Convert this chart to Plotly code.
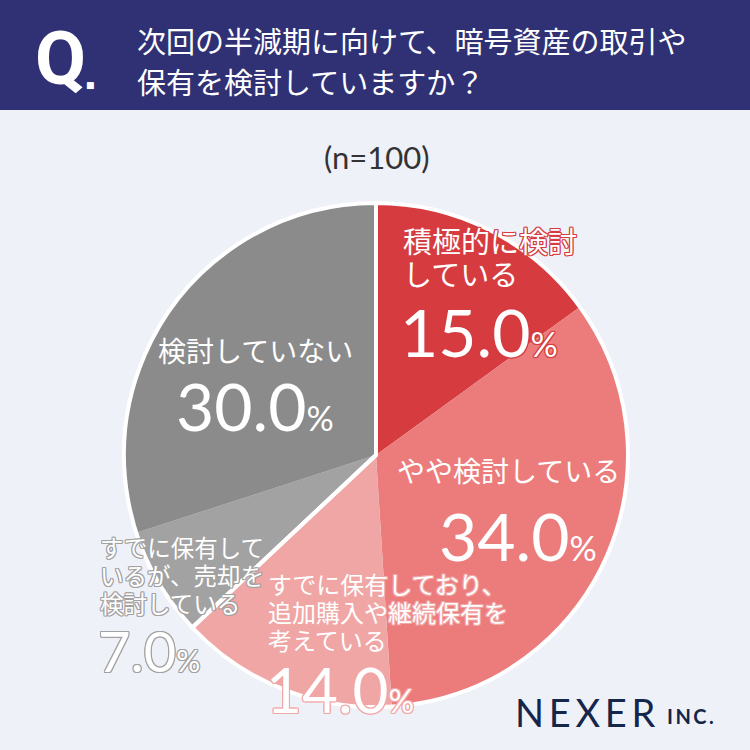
import plotly.graph_objects as go

categories = ["積極的に検討している", "やや検討している", "すでに保有しており、追加購入や継続保有を考えている",
              "すでに保有しているが、売却を検討している", "検討していない"]
values = [15.0, 34.0, 14.0, 7.0, 30.0]
colors = ["#d63b40", "#ec7c7c", "#f1a6a6", "#a2a2a2", "#8b8b8b"]
group_names = ["検討・保有", "検討せず"]
group_values = [values[0] + values[1] + values[2], values[3] + values[4]]

BG = "#eff1f9"
NAVY = "#2f3174"
JP = "Noto Sans CJK JP"
NUM = "Lato"

dom_x = [124 / 750, 628 / 750]
dom_y = [1 - 707 / 750, 1 - 203 / 750]

fig = go.Figure()
fig.add_trace(go.Pie(
    labels=categories, values=values, sort=False, direction="clockwise", rotation=0,
    marker=dict(colors=colors, line=dict(width=0)),
    textinfo="none", hoverinfo="skip", showlegend=False,
    domain=dict(x=dom_x, y=dom_y),
))
fig.add_trace(go.Pie(
    labels=group_names, values=group_values, sort=False, direction="clockwise", rotation=0,
    marker=dict(colors=["rgba(0,0,0,0)", "rgba(0,0,0,0)"], line=dict(width=4, color="white")),
    textinfo="none", hoverinfo="skip", showlegend=False,
    domain=dict(x=dom_x, y=dom_y),
))

def stroke(c, w=1):
    return ", ".join(f"{dx}px {dy}px 0 {c}" for dx, dy in
                     [(w, 0), (-w, 0), (0, w), (0, -w), (w, w), (-w, -w), (w, -w), (-w, w)])

def px(x, y):
    return x / 750, 1 - y / 750

ann = []

def add(text, x, y, size, color="white", font=JP, xanchor="left", sh=None, weight="normal"):
    xx, yy = px(x, y)
    ann.append(dict(text=text, x=xx, y=yy, xref="paper", yref="paper", showarrow=False,
                    xanchor=xanchor, yanchor="middle", align="left",
                    font=dict(size=size, color=color, family=font, weight=weight,
                              shadow=sh if sh else "none")))

def pct(v, small=34):
    return f"{v:.1f}<span style='font-size:{small}px'>%</span>"

# header
add("Q", 33, 58, 74, font="Roboto", weight="bold")
add("■", 84, 85, 9, font="DejaVu Sans")
add("次回の半減期に向けて、暗号資産の取引や", 135, 40, 29)
add("保有を検討していますか？", 135, 81, 29)
add("(n=100)", 377, 157, 31, color="#333333", font=NUM, xanchor="center")

# slice 1
add("積極的に検討", 401, 240, 29, sh=stroke(colors[0]))
add("している", 401, 273, 29, sh=stroke(colors[0]))
add(pct(values[0]), 398, 331, 66, font=NUM, sh=stroke(colors[0]))
# slice 2
add(categories[1], 508, 470, 28, xanchor="center", sh=stroke(colors[1]))
add(pct(values[1]), 518, 535, 66, font=NUM, xanchor="center", sh=stroke(colors[1]))
# slice 3
add("すでに保有しており、", 266, 583, 24, sh=stroke(colors[2]))
add("追加購入や継続保有を", 266, 611, 24, sh=stroke(colors[2]))
add("考えている", 266, 639, 24, sh=stroke(colors[2]))
add(pct(values[2], 32), 264, 689, 62, font=NUM, sh=stroke(colors[2]))
# slice 4
add("すでに保有して", 98, 547, 23.5, sh=stroke(colors[3]))
add("いるが、売却を", 98, 575, 23.5, sh=stroke(colors[3]))
add("検討している", 98, 603, 23.5, sh=stroke(colors[3]))
add(pct(values[3], 30), 96, 650, 56, font=NUM, sh=stroke(colors[3]))
# slice 5
add(categories[4], 255, 350, 28, xanchor="center")
add(pct(values[4]), 255, 405, 66, font=NUM, xanchor="center")

# logo
add("N\u2009E\u2009X\u2009E\u2009R", 513, 712, 38, color="#14264a", font="Lato")
add("<b>I\u2009N\u2009C\u2009.</b>", 665, 716, 20, color="#14264a", font="Lato")

fig.update_layout(
    width=750, height=750, margin=dict(l=0, r=0, t=0, b=0),
    paper_bgcolor=BG, plot_bgcolor=BG,
    annotations=ann,
    shapes=[dict(type="rect", xref="paper", yref="paper", x0=0, x1=1, y0=1 - 110 / 750, y1=1,
                 fillcolor=NAVY, line=dict(width=0), layer="below")],
)
fig.write_html("out.html")
